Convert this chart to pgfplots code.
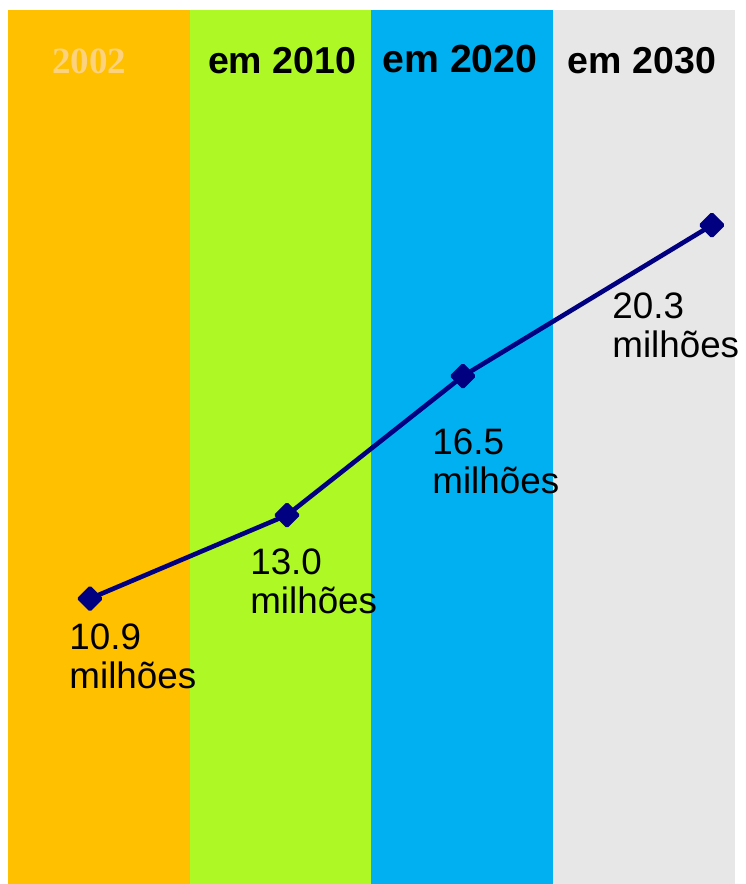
\documentclass[border=0pt]{standalone}
\usepackage{pgfplots}
\pgfplotsset{compat=1.18}
\usepackage{fontspec}
\setmainfont{Liberation Sans}
\newfontfamily\seriffont{Liberation Serif}
\definecolor{bandA}{HTML}{FFC000}
\definecolor{bandB}{HTML}{ADF825}
\definecolor{bandC}{HTML}{00B0F0}
\definecolor{bandD}{HTML}{E7E7E7}
\definecolor{lineblue}{HTML}{000080}
\definecolor{faint}{HTML}{FDD27E}
\begin{document}
\begin{tikzpicture}
\path[use as bounding box] (-4pt,0pt) rectangle (368.5pt,442pt);
\begin{axis}[
  at={(0pt,0pt)}, anchor=south west,
  scale only axis, width=363.5pt, height=437pt,
  xmin=0, xmax=4, ymin=3.716, ymax=25.715,
  axis lines=none, clip=false,
]
\fill[bandA] (axis cs:0,3.716) rectangle (axis cs:1,25.715);
\fill[bandB] (axis cs:1,3.716) rectangle (axis cs:2,25.715);
\fill[bandC] (axis cs:2,3.716) rectangle (axis cs:3,25.715);
\fill[bandD] (axis cs:3,3.716) rectangle (axis cs:4,25.715);
\addplot[color=lineblue, line width=2.3pt, mark=square*, mark size=3.8pt,
  mark options={rotate=45, line join=round, line width=1.8pt, fill=lineblue}]
  coordinates {(0.451,10.9) (1.535,13.0) (2.503,16.5) (3.873,20.3)};
\node[anchor=base, text=faint, font=\seriffont\bfseries\fontsize{18.5}{20}\selectfont] at (axis cs:0.446,24.104) {2002};
\node[anchor=base, font=\bfseries\fontsize{18.75}{20}\selectfont] at (axis cs:1.508,24.104) {em 2010};
\node[anchor=base, font=\bfseries\fontsize{19.6}{21}\selectfont] at (axis cs:2.487,24.154) {em 2020};
\node[anchor=base, font=\bfseries\fontsize{18.75}{20}\selectfont] at (axis cs:3.488,24.104) {em 2030};
\tikzset{lab/.style={anchor=north west, inner sep=0pt, align=left, font=\fontsize{18.4}{19.5}\selectfont}}
\node[lab] at (axis cs:0.336,10.286) {10.9\\milhões};
\node[lab] at (axis cs:1.331,12.174) {13.0\\milhões};
\node[lab] at (axis cs:2.333,15.194) {16.5\\milhões};
\node[lab] at (axis cs:3.323,18.617) {20.3\\milhões};
\end{axis}
\end{tikzpicture}
\end{document}
